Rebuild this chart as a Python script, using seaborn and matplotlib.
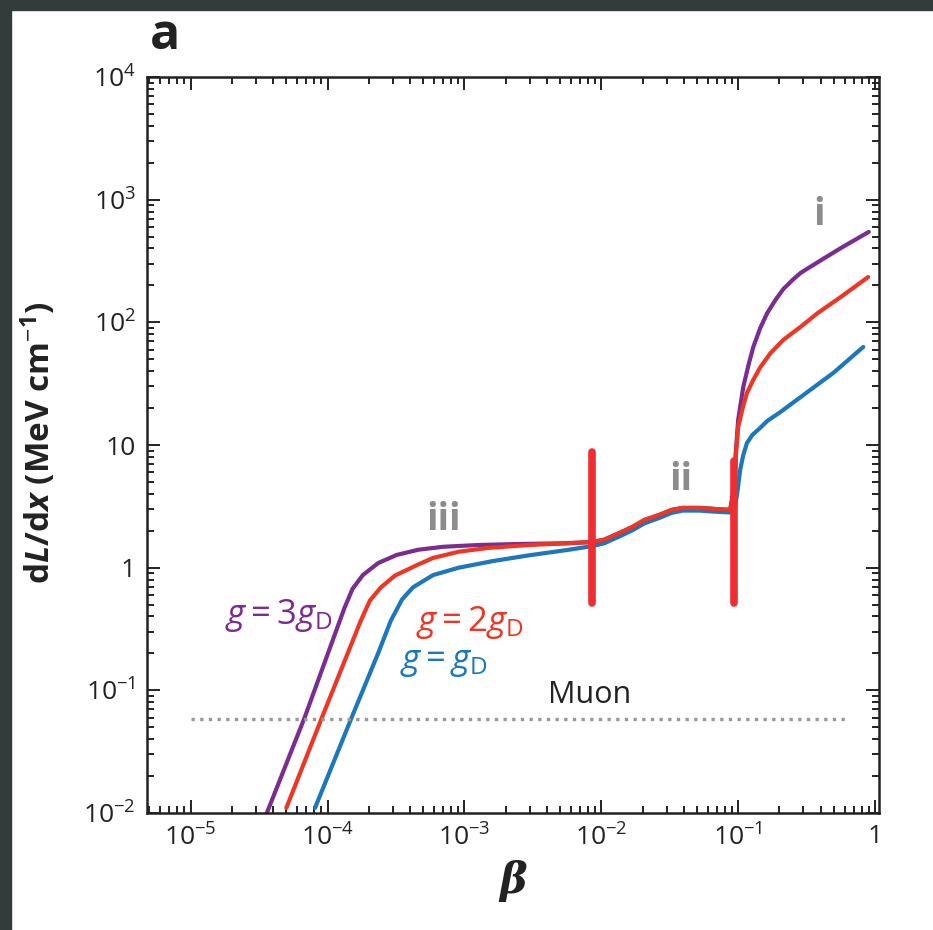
import numpy as np
import pandas as pd
import seaborn as sns
import matplotlib.pyplot as plt
from matplotlib.ticker import LogLocator, NullFormatter
from matplotlib.patches import Rectangle

# ---- values ----
# g = 3 g_D
beta_3gd = [3.6e-5, 6.8e-5, 1.23e-4, 1.33e-4, 1.52e-4, 1.81e-4, 2.34e-4, 3.2e-4, 4.6e-4, 7.0e-4,
            1.26e-3, 2.5e-3, 5.5e-3, 8.6e-3,
            0.0105, 0.0136, 0.0169, 0.0207, 0.0267, 0.0327, 0.0394, 0.0526, 0.0678, 0.0874,
            0.093, 0.096, 0.100, 0.109, 0.119, 0.129, 0.145, 0.163, 0.187, 0.214, 0.25, 0.286, 0.381,
            0.562, 0.90]
dldx_3gd = [0.010, 0.060, 0.37, 0.47, 0.67, 0.87, 1.09, 1.27, 1.40, 1.48,
            1.53, 1.56, 1.58, 1.62,
            1.69, 1.92, 2.15, 2.45, 2.7, 2.96, 3.07, 3.07, 3.01, 2.96,
            4.5, 8.6, 16, 29.8, 45, 63, 90, 119, 152, 187, 222, 253, 309,
            403, 546]
# g = 2 g_D
beta_2gd = [5.0e-5, 9.1e-5, 1.75e-4, 2.04e-4, 2.45e-4, 3.1e-4, 4.5e-4, 5.9e-4, 9.1e-4, 1.5e-3,
            2.95e-3, 5.5e-3, 8.6e-3,
            0.0105, 0.0136, 0.0169, 0.0207, 0.0267, 0.0327, 0.0394, 0.0526, 0.0678, 0.0874,
            0.093, 0.096, 0.100, 0.109, 0.116, 0.129, 0.145, 0.172, 0.214, 0.286, 0.381,
            0.562, 0.89]
dldx_2gd = [0.011, 0.060, 0.37, 0.54, 0.69, 0.86, 1.05, 1.20, 1.35, 1.45,
            1.53, 1.58, 1.62,
            1.69, 1.92, 2.15, 2.45, 2.7, 2.96, 3.07, 3.07, 3.01, 2.96,
            4.2, 8.0, 14, 21, 26.6, 34, 43, 56, 72, 92, 119,
            161, 234]
# g = g_D
beta_gd = [8.1e-5, 1.5e-4, 2.34e-4, 2.9e-4, 3.5e-4, 4.2e-4, 5.9e-4, 9.1e-4, 1.6e-3, 2.95e-3,
           5.8e-3, 8.6e-3,
           0.0105, 0.0136, 0.0169, 0.0207, 0.0267, 0.0327, 0.0394, 0.0526, 0.0678, 0.0874,
           0.094, 0.098, 0.1035, 0.109, 0.116, 0.127, 0.145, 0.163, 0.204, 0.286, 0.50, 0.82]
dldx_gd = [0.011, 0.060, 0.20, 0.37, 0.55, 0.69, 0.87, 1.0, 1.13, 1.26,
           1.40, 1.50,
           1.58, 1.80, 2.02, 2.3, 2.55, 2.8, 2.92, 2.92, 2.86, 2.82,
           3.0, 3.9, 6.3, 8.3, 10.4, 12.1, 13.8, 15.7, 18.6, 24.6, 39, 63]

muon_beta = [1.0e-5, 0.62]
muon_dldx = [0.058, 0.058]

# red threshold bars
bar_beta = [0.0086, 0.093]
bar_low = [0.52, 0.52]
bar_high = [8.7, 7.4]

xticks = [1e-5, 1e-4, 1e-3, 1e-2, 1e-1, 1]
xtick_labels = ['$10^{-5}$', '$10^{-4}$', '$10^{-3}$', '$10^{-2}$', '$10^{-1}$', '1']
yticks = [1e-2, 1e-1, 1, 10, 1e2, 1e3, 1e4]
ytick_labels = ['$10^{-2}$', '$10^{-1}$', '1', '10', '$10^{2}$', '$10^{3}$', '$10^{4}$']

curve_names = ['g = gD', 'g = 3gD', 'g = 2gD']
colors = {'g = gD': '#1c77bd', 'g = 3gD': '#7b2c91', 'g = 2gD': '#ef3523'}

df = pd.concat([
    pd.DataFrame({'beta': beta_gd, 'dldx': dldx_gd, 'curve': 'g = gD'}),
    pd.DataFrame({'beta': beta_3gd, 'dldx': dldx_3gd, 'curve': 'g = 3gD'}),
    pd.DataFrame({'beta': beta_2gd, 'dldx': dldx_2gd, 'curve': 'g = 2gD'}),
], ignore_index=True)

sns.set_style('ticks')
plt.rcParams['font.family'] = ['Open Sans', 'DejaVu Sans']
plt.rcParams['mathtext.fontset'] = 'custom'
plt.rcParams['mathtext.rm'] = 'Open Sans'
plt.rcParams['mathtext.it'] = 'Open Sans:italic'
plt.rcParams['mathtext.bf'] = 'Open Sans:bold'
plt.rcParams['mathtext.bfit'] = 'Open Sans:bold:italic'

fig = plt.figure(figsize=(9.33, 9.30), dpi=100)
ax = fig.add_axes([0.1576, 0.1258, 0.7846, 0.7914])

sns.lineplot(data=df, x='beta', y='dldx', hue='curve', hue_order=curve_names,
             palette=colors, sort=False, estimator=None, lw=3.0, legend=False, ax=ax)

ax.plot(muon_beta, muon_dldx, color='#999999', lw=2.4, ls=(0, (1, 1.6)))
ax.vlines(bar_beta, bar_low, bar_high, color='#ef2d33', lw=5.5, capstyle='round', zorder=5)

ax.set_xscale('log')
ax.set_yscale('log')
ax.set_xlim(4.8e-6, 1.07)
ax.set_ylim(1e-2, 1e4)

ax.set_xticks(xticks, labels=xtick_labels)
ax.set_yticks(yticks, labels=ytick_labels)
ax.xaxis.set_minor_locator(LogLocator(base=10, subs=np.arange(2, 10), numticks=20))
ax.yaxis.set_minor_locator(LogLocator(base=10, subs=np.arange(2, 10), numticks=20))
ax.xaxis.set_minor_formatter(NullFormatter())
ax.yaxis.set_minor_formatter(NullFormatter())
ax.tick_params(which='both', direction='in', top=True, right=True, width=1.4, color='#222222')
ax.tick_params(which='major', length=9.5, labelsize=19, pad=8, labelcolor='#222222')
ax.tick_params(which='minor', length=5)
for s in ax.spines.values():
    s.set_linewidth(1.8)
    s.set_color('#222222')

ax.set_xlabel('β', fontsize=30, family='DejaVu Serif', style='italic',
              fontweight='bold', labelpad=6, color='#222222')
ax.set_ylabel(r'd$\mathbfit{L}$/d$\mathbfit{x}$ (MeV cm$^{-\mathbf{1}}$)', fontsize=24,
              fontweight='bold', color='#222222')
ax.yaxis.set_label_coords(-0.121, 0.503)

# annotations
ax.text(7.0e-4, 2.45, 'iii', color='#8c8c8c', fontsize=27, fontweight='bold', ha='center', va='center')
ax.text(0.038, 5.2, 'ii', color='#8c8c8c', fontsize=27, fontweight='bold', ha='center', va='center')
ax.text(0.39, 750, 'i', color='#8c8c8c', fontsize=27, fontweight='bold', ha='center', va='center')
ax.text(8.2e-3, 0.091, 'Muon', color='#222222', fontsize=22, ha='center', va='center')
ax.text(4.4e-5, 0.41, r'$g = 3g_{\mathrm{D}}$', color='#7b2c91', fontsize=25, ha='center', va='center')
ax.text(1.1e-3, 0.36, r'$g = 2g_{\mathrm{D}}$', color='#ef3523', fontsize=25, ha='center', va='center')
ax.text(7.1e-4, 0.17, r'$g = g_{\mathrm{D}}$', color='#1c77bd', fontsize=25, ha='center', va='center')

fig.text(0.177, 0.961, 'a', fontsize=36, fontweight='bold', ha='center', va='center', color='#222222')

# dark frame strips along the top and left edges
fig.patches.append(Rectangle((0, 1 - 10 / 930), 1, 10 / 930, transform=fig.transFigure,
                             color='#333b3b', zorder=10))
fig.patches.append(Rectangle((0, 0), 11 / 933, 1, transform=fig.transFigure,
                             color='#333b3b', zorder=10))

fig.savefig('out.png', dpi=100)
